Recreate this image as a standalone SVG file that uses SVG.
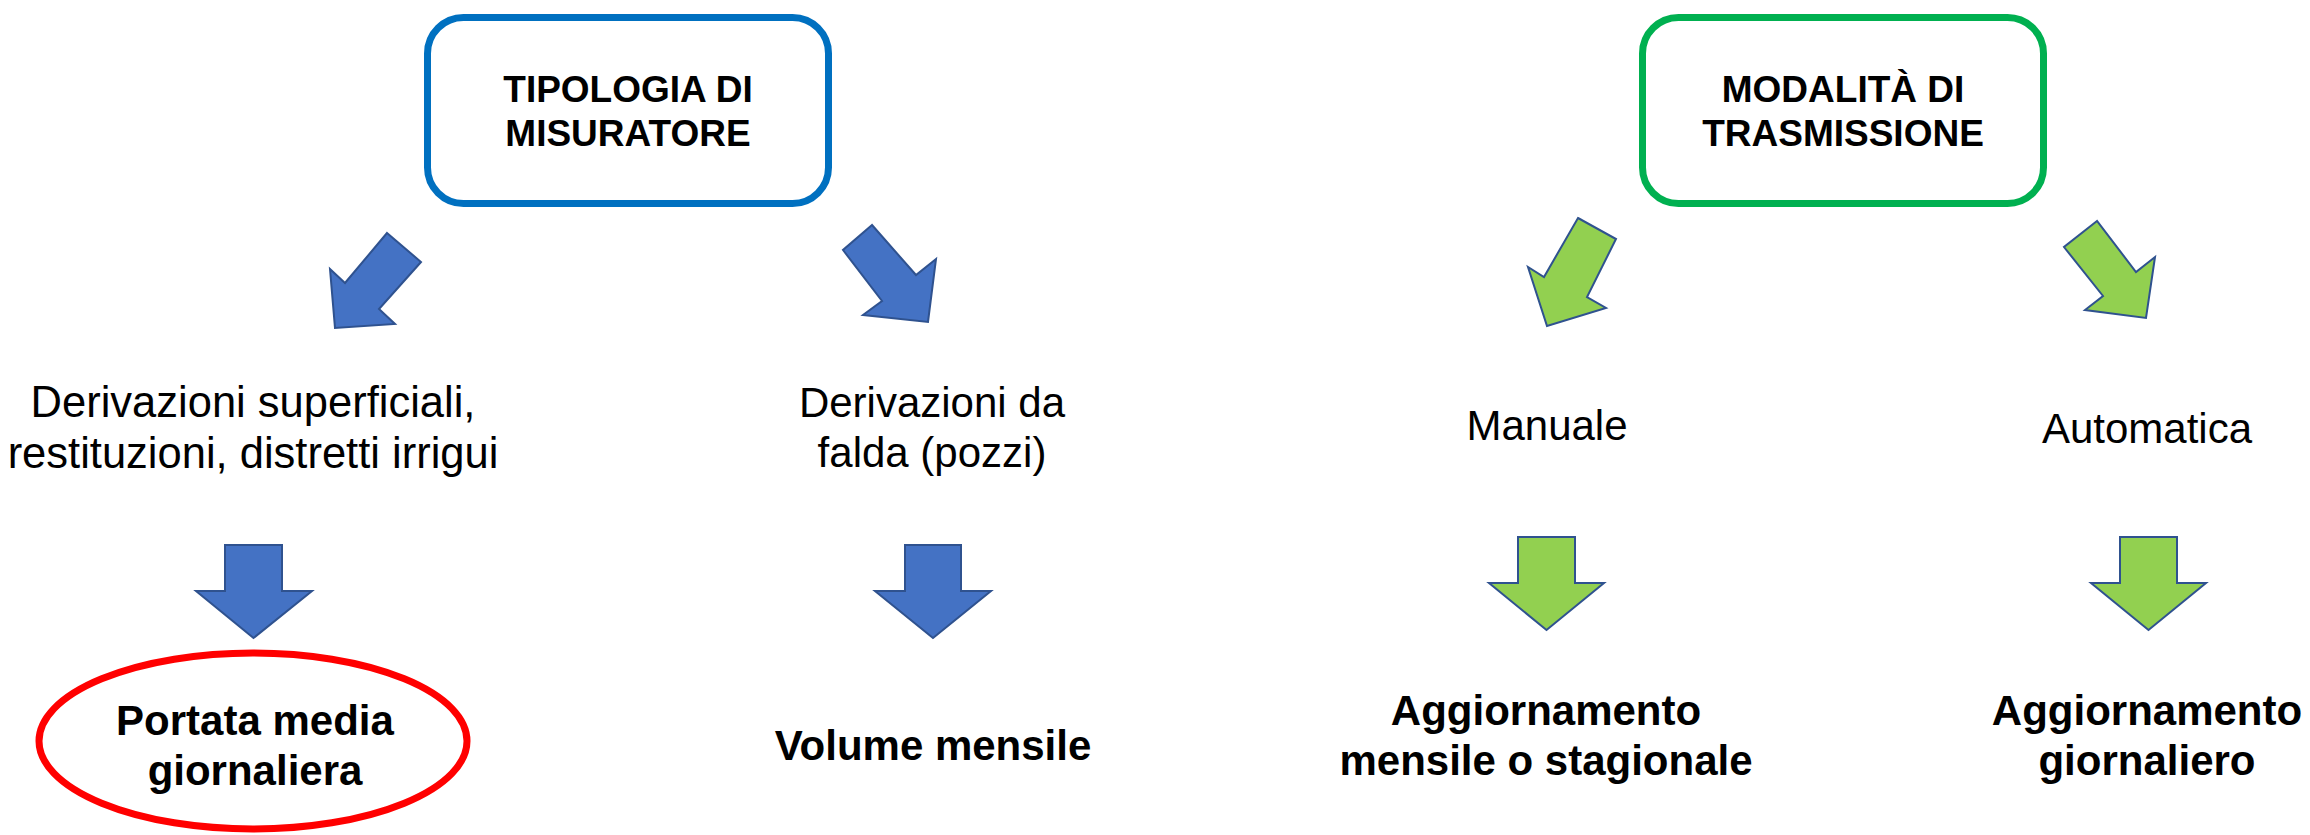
<svg xmlns="http://www.w3.org/2000/svg" width="2310" height="835" viewBox="0 0 2310 835">
<style>
.bg{fill:#ffffff}
.t{font-family:"Liberation Sans",Arial,sans-serif;fill:#000000;text-anchor:middle}
.n{font-size:42px}
.n2{font-size:43.5px}
.b{font-size:42px;font-weight:bold}
.h{font-size:37px;font-weight:bold}
.blue{fill:#4472C4;stroke:#2F528F;stroke-width:2;stroke-linejoin:miter}
.green{fill:#92D050;stroke:#2F528F;stroke-width:2;stroke-linejoin:miter}
.box{fill:#ffffff;stroke-width:7}
</style>
<rect class="bg" x="0" y="0" width="2310" height="835"/>
<g id="node-tipologia">
<rect class="box" x="427.5" y="17.5" width="401" height="186" rx="36" ry="36" stroke="#0070C0"/>
<text class="t h" x="628" y="102">TIPOLOGIA DI</text>
<text class="t h" x="628" y="146">MISURATORE</text>
</g>
<g id="node-modalita">
<rect class="box" x="1642.5" y="17.5" width="401" height="186" rx="36" ry="36" stroke="#00B050"/>
<text class="t h" x="1843" y="102">MODALITÀ DI</text>
<text class="t h" x="1843" y="146">TRASMISSIONE</text>
</g>
<g id="node-derivazioni-superficiali">
<text class="t n2" x="253" y="417">Derivazioni superficiali,</text>
<text class="t n2" x="253" y="468">restituzioni, distretti irrigui</text>
</g>
<g id="node-derivazioni-falda">
<text class="t n" x="932" y="417">Derivazioni da</text>
<text class="t n" x="932" y="467">falda (pozzi)</text>
</g>
<g id="node-manuale">
<text class="t n" x="1547" y="440">Manuale</text>
</g>
<g id="node-automatica">
<text class="t n" x="2147" y="443">Automatica</text>
</g>
<g id="node-portata">
<ellipse cx="253" cy="741" rx="214" ry="88" fill="none" stroke="#FF0000" stroke-width="7"/>
<text class="t b" x="255" y="735">Portata media</text>
<text class="t b" x="255" y="785">giornaliera</text>
</g>
<g id="node-volume">
<text class="t b" x="933" y="760">Volume mensile</text>
</g>
<g id="node-agg-mensile">
<text class="t b" x="1546" y="725">Aggiornamento</text>
<text class="t b" x="1546" y="775">mensile o stagionale</text>
</g>
<g id="node-agg-giornaliero">
<text class="t b" x="2147" y="725">Aggiornamento</text>
<text class="t b" x="2147" y="775">giornaliero</text>
</g>
<g id="connectors">
<polygon class="blue" points="387,233 421,262 379,309 395,324 335,328 330,269 345,283"/>
<polygon class="blue" points="872,225 843,250 882,301 863,315 928,322 936,259 916,275"/>
<polygon class="green" points="1578,218 1616,239 1587,297 1606,308 1547,326 1528,267 1544,277"/>
<polygon class="green" points="2097,221 2064,247 2103,296 2085,310 2146,318 2155,257 2136,272"/>
<polygon class="blue" points="225,545 282,545 282,591 312,591 253.5,638 196,591 225,591"/>
<polygon class="blue" points="905,545 961,545 961,591 991,591 933,638 875,591 905,591"/>
<polygon class="green" points="1518,537 1575,537 1575,583 1604,583 1546.5,630 1489,583 1518,583"/>
<polygon class="green" points="2120,537 2177,537 2177,583 2206,583 2148.5,630 2091,583 2120,583"/>
</g>
</svg>
